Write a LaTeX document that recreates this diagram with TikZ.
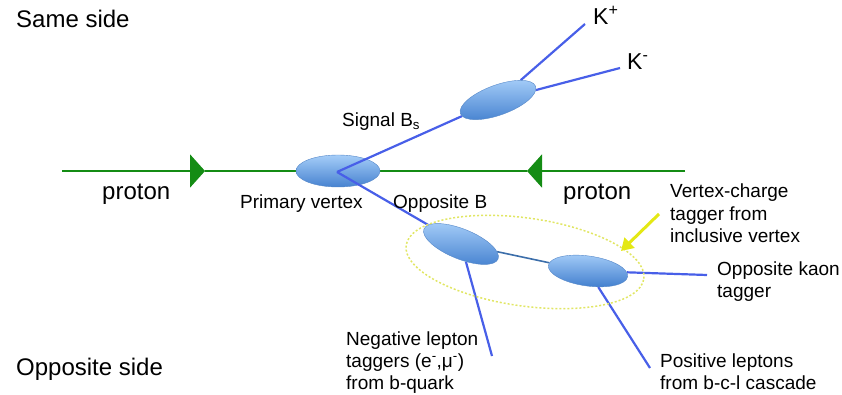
\documentclass[tikz,border=0pt]{standalone}
\usepackage{fontspec}
\setmainfont{Liberation Sans}
\usetikzlibrary{positioning,shapes.geometric,arrows.meta}
\definecolor{beam}{RGB}{20,140,20}
\definecolor{track}{RGB}{72,95,232}
\definecolor{vtxtop}{RGB}{165,205,248}
\definecolor{vtxbot}{RGB}{70,130,208}
\definecolor{vtxline}{RGB}{85,135,200}
\definecolor{linkline}{RGB}{60,110,170}
\definecolor{taggring}{RGB}{225,230,100}
\definecolor{taggarrow}{RGB}{228,232,20}
\pgfdeclarelayer{back}
\pgfdeclarelayer{mid}
\pgfsetlayers{back,mid,main}

\begin{document}
\begin{tikzpicture}[x=1pt,y=-1pt]
    \tikzstyle{vertex}=[ellipse, draw=vtxline, thin, top color=vtxtop, bottom color=vtxbot, inner sep=0pt, minimum width=80pt, minimum height=30pt]
    \tikzstyle{trk}=[track, line width=2.2pt]
    \tikzstyle{lbl}=[inner sep=0pt, anchor=base west, font=\fontsize{19}{22}\selectfont, align=left]
    \tikzstyle{big}=[inner sep=0pt, anchor=base west, font=\fontsize{24}{28}\selectfont]
    \useasboundingbox (0,0) rectangle (842,395);

    % beam line
    \coordinate (beamL) at (62,171);
    \coordinate (beamR) at (685,171);
    \coordinate (fwdtip) at (205,171);
    \coordinate (bwdtip) at (527,171);
    \begin{pgfonlayer}{back}
    \draw[beam, line width=2.2pt, -{Triangle[length=15pt,width=33pt]}] (beamL) -- (fwdtip);
    \draw[beam, line width=2.2pt] (fwdtip) -- (bwdtip);
    \draw[beam, line width=2.2pt, -{Triangle[length=15pt,width=33pt]}] (beamR) -- (bwdtip);
    \end{pgfonlayer}

    % vertices
    \begin{pgfonlayer}{mid}
    \node[vertex, minimum width=84pt, minimum height=32pt] (pv) at (338,171) {};
    \end{pgfonlayer}
    \coordinate (pvx) at (337,172);
    \node[vertex, rotate=20] (bs) at (498,100) {};
    \node[vertex, rotate=-22] (ob) at (461,244) {};
    \node[vertex, rotate=-8] (kv) at (588,271) {};
    \node[ellipse, draw=taggring, line width=1.5pt, dash pattern=on 2pt off 2pt, minimum width=240pt, minimum height=88pt, rotate=-8] (ring) at (525,262) {};

    % track ends
    \coordinate (kplus) at (585,24);
    \coordinate (kminus) at (620,68);
    \coordinate (negl) at (492,356);
    \coordinate (posl) at (650,368);
    \coordinate (kaon) at (707,275);

    \begin{pgfonlayer}{mid}
    \draw[trk] (pvx) -- (bs);
    \draw[trk] (pvx) -- (ob);
    \draw[trk] (bs) -- (kplus);
    \draw[trk] (bs) -- (kminus);
    \draw[trk] (ob) -- (negl);
    \draw[linkline, line width=1.6pt] (ob) -- (kv);
    \draw[trk] (kv) -- (kaon);
    \draw[trk] (kv) -- (posl);
    \end{pgfonlayer}

    % tagger arrow
    \coordinate (arrtail) at (659,214);
    \coordinate (arrhead) at (621,251);
    \draw[taggarrow, line width=3pt, -{Triangle[length=12pt,width=14pt]}] (arrtail) -- (arrhead);

    % labels
    \node[big] (same) at (16,28) {Same side};
    \node[big] (opp) at (16,375) {Opposite side};
    \node[big] (protL) at (102,200) {proton};
    \node[big] (protR) at (563,200) {proton};
    \node[big, font=\fontsize{23}{26}\selectfont] (kpl) at (593,25) {K\textsuperscript{+}};
    \node[big, font=\fontsize{23}{26}\selectfont] (kml) at (627,70) {K\textsuperscript{-}};
    \node[lbl] (pvl) at (240,208) {Primary vertex};
    \node[lbl] (bsl) at (342,127) {Signal B\textsubscript{s}};
    \node[lbl] (obl) at (393,208) {Opposite B};
    \node[lbl] (vcl) at (670,242) {Vertex-charge\\tagger from\\inclusive vertex};
    \node[lbl] (okl) at (717,297) {Opposite kaon\\tagger};
    \node[lbl] (pll) at (660,389) {Positive leptons\\from b-c-l cascade};
    \node[lbl] (nll) at (346,389) {Negative lepton\\taggers (e\textsuperscript{-},μ\textsuperscript{-})\\from b-quark};
\end{tikzpicture}
\end{document}
